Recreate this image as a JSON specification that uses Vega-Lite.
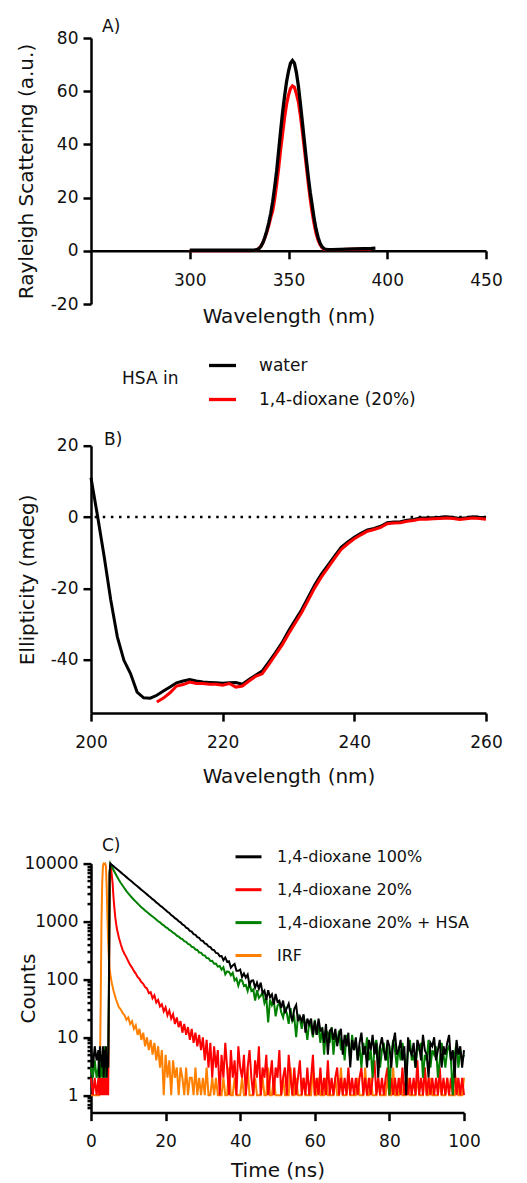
{
  "$schema": "https://vega.github.io/schema/vega-lite/v6.json",
  "autosize": {"type": "pad"},
  "padding": {"left": 15, "top": 18, "right": 0, "bottom": 4},
  "bounds": "flush",
  "spacing": 141.7,
  "datasets": {
    "A": [
      {"s":"1,4-dioxane (20%)","x":300,"y":0.1},{"s":"1,4-dioxane (20%)","x":310,"y":0.1},{"s":"1,4-dioxane (20%)","x":320,"y":0.1},{"s":"1,4-dioxane (20%)","x":330,"y":0.1},{"s":"1,4-dioxane (20%)","x":333,"y":0.2},{"s":"1,4-dioxane (20%)","x":334,"y":0.4},{"s":"1,4-dioxane (20%)","x":335,"y":0.9},{"s":"1,4-dioxane (20%)","x":336,"y":1.7},{"s":"1,4-dioxane (20%)","x":337,"y":3.0},{"s":"1,4-dioxane (20%)","x":338,"y":4.8},{"s":"1,4-dioxane (20%)","x":339,"y":7.0},{"s":"1,4-dioxane (20%)","x":340,"y":9.5},{"s":"1,4-dioxane (20%)","x":341,"y":12.5},{"s":"1,4-dioxane (20%)","x":342,"y":15},{"s":"1,4-dioxane (20%)","x":343,"y":19.5},{"s":"1,4-dioxane (20%)","x":344,"y":25},{"s":"1,4-dioxane (20%)","x":345,"y":31},{"s":"1,4-dioxane (20%)","x":346,"y":38},{"s":"1,4-dioxane (20%)","x":347,"y":44},{"s":"1,4-dioxane (20%)","x":348,"y":50},{"s":"1,4-dioxane (20%)","x":349,"y":55},{"s":"1,4-dioxane (20%)","x":350,"y":58.5},{"s":"1,4-dioxane (20%)","x":351,"y":61},{"s":"1,4-dioxane (20%)","x":352,"y":62},{"s":"1,4-dioxane (20%)","x":353,"y":61.5},{"s":"1,4-dioxane (20%)","x":354,"y":59},{"s":"1,4-dioxane (20%)","x":355,"y":56},{"s":"1,4-dioxane (20%)","x":356,"y":51},{"s":"1,4-dioxane (20%)","x":357,"y":45},{"s":"1,4-dioxane (20%)","x":358,"y":38.5},{"s":"1,4-dioxane (20%)","x":359,"y":32},{"s":"1,4-dioxane (20%)","x":360,"y":25.5},{"s":"1,4-dioxane (20%)","x":361,"y":19.5},{"s":"1,4-dioxane (20%)","x":362,"y":14.3},{"s":"1,4-dioxane (20%)","x":363,"y":10},{"s":"1,4-dioxane (20%)","x":364,"y":6.5},{"s":"1,4-dioxane (20%)","x":365,"y":4},{"s":"1,4-dioxane (20%)","x":366,"y":2.3},{"s":"1,4-dioxane (20%)","x":367,"y":1.2},{"s":"1,4-dioxane (20%)","x":368,"y":0.6},{"s":"1,4-dioxane (20%)","x":369,"y":0.4},{"s":"1,4-dioxane (20%)","x":370,"y":0.4},{"s":"1,4-dioxane (20%)","x":375,"y":0.4},{"s":"1,4-dioxane (20%)","x":380,"y":0.5},{"s":"1,4-dioxane (20%)","x":385,"y":0.6},{"s":"1,4-dioxane (20%)","x":392,"y":0.7},
      {"s":"water","x":300,"y":0.2},{"s":"water","x":310,"y":0.2},{"s":"water","x":320,"y":0.2},{"s":"water","x":330,"y":0.2},{"s":"water","x":332,"y":0.2},{"s":"water","x":333,"y":0.3},{"s":"water","x":334,"y":0.4},{"s":"water","x":335,"y":0.8},{"s":"water","x":336,"y":1.6},{"s":"water","x":337,"y":3.0},{"s":"water","x":338,"y":5.0},{"s":"water","x":339,"y":7.5},{"s":"water","x":340,"y":10.5},{"s":"water","x":341,"y":14},{"s":"water","x":342,"y":18.5},{"s":"water","x":343,"y":24},{"s":"water","x":344,"y":30},{"s":"water","x":345,"y":37.5},{"s":"water","x":346,"y":45},{"s":"water","x":347,"y":52},{"s":"water","x":348,"y":58},{"s":"water","x":349,"y":63.5},{"s":"water","x":350,"y":67.5},{"s":"water","x":351,"y":70.5},{"s":"water","x":352,"y":71.5},{"s":"water","x":353,"y":70.5},{"s":"water","x":354,"y":67},{"s":"water","x":355,"y":62},{"s":"water","x":356,"y":55.5},{"s":"water","x":357,"y":48.5},{"s":"water","x":358,"y":41.5},{"s":"water","x":359,"y":34.5},{"s":"water","x":360,"y":28},{"s":"water","x":361,"y":22},{"s":"water","x":362,"y":17},{"s":"water","x":363,"y":12},{"s":"water","x":364,"y":8},{"s":"water","x":365,"y":5},{"s":"water","x":366,"y":2.8},{"s":"water","x":367,"y":1.5},{"s":"water","x":368,"y":0.8},{"s":"water","x":369,"y":0.5},{"s":"water","x":370,"y":0.4},{"s":"water","x":372,"y":0.4},{"s":"water","x":376,"y":0.5},{"s":"water","x":380,"y":0.6},{"s":"water","x":384,"y":0.7},{"s":"water","x":388,"y":0.8},{"s":"water","x":392,"y":0.9},{"s":"water","x":394,"y":1.0}
    ],
    "B": [
      {"s":"water","x":200,"y":11},{"s":"water","x":201,"y":0.2},{"s":"water","x":202,"y":-11.1},{"s":"water","x":203,"y":-23.3},{"s":"water","x":204,"y":-33.6},{"s":"water","x":205,"y":-40.2},{"s":"water","x":206,"y":-43.9},{"s":"water","x":207,"y":-49.1},{"s":"water","x":208,"y":-50.7},{"s":"water","x":209,"y":-50.8},{"s":"water","x":210,"y":-50},{"s":"water","x":211,"y":-48.8},{"s":"water","x":212,"y":-47.7},{"s":"water","x":213,"y":-46.5},{"s":"water","x":214,"y":-46},{"s":"water","x":215,"y":-45.6},{"s":"water","x":216,"y":-46},{"s":"water","x":217,"y":-46.3},{"s":"water","x":218,"y":-46.4},{"s":"water","x":219,"y":-46.5},{"s":"water","x":220,"y":-46.6},{"s":"water","x":221,"y":-46.5},{"s":"water","x":222,"y":-46.4},{"s":"water","x":223,"y":-46.9},{"s":"water","x":224,"y":-45.6},{"s":"water","x":225,"y":-44.4},{"s":"water","x":226,"y":-43.2},{"s":"water","x":227,"y":-40.7},{"s":"water","x":228,"y":-38.1},{"s":"water","x":229,"y":-35.3},{"s":"water","x":230,"y":-32},{"s":"water","x":231,"y":-29},{"s":"water","x":232,"y":-26},{"s":"water","x":233,"y":-22.5},{"s":"water","x":234,"y":-19},{"s":"water","x":235,"y":-16},{"s":"water","x":236,"y":-13.5},{"s":"water","x":237,"y":-11},{"s":"water","x":238,"y":-8.5},{"s":"water","x":239,"y":-7},{"s":"water","x":240,"y":-5.7},{"s":"water","x":241,"y":-4.6},{"s":"water","x":242,"y":-3.6},{"s":"water","x":243,"y":-3.2},{"s":"water","x":244,"y":-2.6},{"s":"water","x":245,"y":-1.6},{"s":"water","x":246,"y":-1.4},{"s":"water","x":247,"y":-1.3},{"s":"water","x":248,"y":-0.9},{"s":"water","x":249,"y":-0.7},{"s":"water","x":250,"y":-0.3},{"s":"water","x":251,"y":-0.3},{"s":"water","x":252,"y":-0.2},{"s":"water","x":253,"y":-0.1},{"s":"water","x":254,"y":0.1},{"s":"water","x":255,"y":-0.1},{"s":"water","x":256,"y":-0.4},{"s":"water","x":257,"y":-0.2},{"s":"water","x":258,"y":0.1},{"s":"water","x":259,"y":-0.1},{"s":"water","x":260,"y":-0.2},
      {"s":"1,4-dioxane (20%)","x":210,"y":-51.9},{"s":"1,4-dioxane (20%)","x":211,"y":-50.8},{"s":"1,4-dioxane (20%)","x":212,"y":-49.3},{"s":"1,4-dioxane (20%)","x":213,"y":-47.4},{"s":"1,4-dioxane (20%)","x":214,"y":-47},{"s":"1,4-dioxane (20%)","x":215,"y":-46.3},{"s":"1,4-dioxane (20%)","x":216,"y":-46.7},{"s":"1,4-dioxane (20%)","x":217,"y":-46.7},{"s":"1,4-dioxane (20%)","x":218,"y":-46.9},{"s":"1,4-dioxane (20%)","x":219,"y":-46.9},{"s":"1,4-dioxane (20%)","x":220,"y":-47.2},{"s":"1,4-dioxane (20%)","x":221,"y":-46.7},{"s":"1,4-dioxane (20%)","x":222,"y":-47.7},{"s":"1,4-dioxane (20%)","x":223,"y":-47.4},{"s":"1,4-dioxane (20%)","x":224,"y":-46},{"s":"1,4-dioxane (20%)","x":225,"y":-44.7},{"s":"1,4-dioxane (20%)","x":226,"y":-44},{"s":"1,4-dioxane (20%)","x":227,"y":-41.4},{"s":"1,4-dioxane (20%)","x":228,"y":-38.7},{"s":"1,4-dioxane (20%)","x":229,"y":-36},{"s":"1,4-dioxane (20%)","x":230,"y":-32.8},{"s":"1,4-dioxane (20%)","x":231,"y":-29.8},{"s":"1,4-dioxane (20%)","x":232,"y":-26.8},{"s":"1,4-dioxane (20%)","x":233,"y":-23.3},{"s":"1,4-dioxane (20%)","x":234,"y":-19.8},{"s":"1,4-dioxane (20%)","x":235,"y":-16.8},{"s":"1,4-dioxane (20%)","x":236,"y":-14.2},{"s":"1,4-dioxane (20%)","x":237,"y":-11.6},{"s":"1,4-dioxane (20%)","x":238,"y":-9.1},{"s":"1,4-dioxane (20%)","x":239,"y":-7.5},{"s":"1,4-dioxane (20%)","x":240,"y":-6.1},{"s":"1,4-dioxane (20%)","x":241,"y":-5},{"s":"1,4-dioxane (20%)","x":242,"y":-4},{"s":"1,4-dioxane (20%)","x":243,"y":-3.5},{"s":"1,4-dioxane (20%)","x":244,"y":-2.9},{"s":"1,4-dioxane (20%)","x":245,"y":-1.9},{"s":"1,4-dioxane (20%)","x":246,"y":-1.7},{"s":"1,4-dioxane (20%)","x":247,"y":-1.6},{"s":"1,4-dioxane (20%)","x":248,"y":-1.2},{"s":"1,4-dioxane (20%)","x":249,"y":-1},{"s":"1,4-dioxane (20%)","x":250,"y":-0.6},{"s":"1,4-dioxane (20%)","x":251,"y":-0.6},{"s":"1,4-dioxane (20%)","x":252,"y":-0.5},{"s":"1,4-dioxane (20%)","x":253,"y":-0.4},{"s":"1,4-dioxane (20%)","x":254,"y":-0.3},{"s":"1,4-dioxane (20%)","x":255,"y":-0.4},{"s":"1,4-dioxane (20%)","x":256,"y":-0.7},{"s":"1,4-dioxane (20%)","x":257,"y":-0.5},{"s":"1,4-dioxane (20%)","x":258,"y":-0.3},{"s":"1,4-dioxane (20%)","x":259,"y":-0.4},{"s":"1,4-dioxane (20%)","x":260,"y":-0.6}
    ],
    "Cb": [
      {"t":0,"c":7},{"t":0.5,"c":3},{"t":1,"c":7},{"t":1.5,"c":4},{"t":2,"c":6},{"t":2.2,"c":2},{"t":2.4,"c":7},{"t":2.6,"c":4},{"t":2.8,"c":5},{"t":3,"c":3},{"t":3.2,"c":7},{"t":3.4,"c":2},{"t":3.6,"c":6},{"t":3.8,"c":3},{"t":4,"c":7},{"t":4.2,"c":2},{"t":4.4,"c":5},{"t":4.6,"c":3},{"t":4.8,"c":60},{"t":5,"c":7000},{"t":5.2,"c":10000},{"t":5.4,"c":9750},{"t":5.6,"c":9500},{"t":5.8,"c":9280},{"t":6,"c":9050},{"t":6.25,"c":8770},{"t":6.5,"c":8500},{"t":6.75,"c":8240},{"t":7,"c":7990},{"t":7.5,"c":7500},{"t":8,"c":7050},{"t":8.5,"c":6620},{"t":9,"c":6220},{"t":9.5,"c":5840},{"t":10,"c":5490},{"t":10.5,"c":5160},{"t":11,"c":4840},{"t":11.5,"c":4550},{"t":12,"c":4270},{"t":12.5,"c":4020},{"t":13,"c":3770},{"t":13.5,"c":3540},{"t":14,"c":3330},{"t":14.5,"c":3130},{"t":15,"c":2940},{"t":15.5,"c":2760},{"t":16,"c":2600},{"t":16.5,"c":2430},{"t":17,"c":2300},{"t":17.5,"c":2140},{"t":18,"c":2030},{"t":18.5,"c":1890},{"t":19,"c":1790},{"t":19.5,"c":1670},{"t":20,"c":1580},{"t":20.5,"c":1470},{"t":21,"c":1400},{"t":21.5,"c":1290},{"t":22,"c":1230},{"t":22.5,"c":1140},{"t":23,"c":1090},{"t":23.5,"c":1010},{"t":24,"c":965},{"t":24.5,"c":890},{"t":25,"c":855},{"t":25.5,"c":780},{"t":26,"c":755},{"t":26.5,"c":690},{"t":27,"c":668},{"t":27.5,"c":605},{"t":28,"c":590},{"t":28.5,"c":535},{"t":29,"c":520},{"t":29.5,"c":470},{"t":30,"c":462},{"t":30.5,"c":418},{"t":31,"c":408},{"t":31.5,"c":370},{"t":32,"c":360},{"t":32.5,"c":326},{"t":33,"c":320},{"t":33.5,"c":286},{"t":34,"c":282},{"t":34.5,"c":252},
      {"t":35,"c":254},{"t":35.5,"c":215},{"t":36,"c":239},{"t":36.5,"c":201},{"t":37,"c":206},{"t":37.5,"c":159},{"t":38,"c":174},{"t":38.5,"c":185},{"t":39,"c":141},{"t":39.5,"c":141},{"t":40,"c":148},{"t":40.5,"c":110},{"t":41,"c":126},{"t":41.5,"c":107},{"t":42,"c":121},{"t":42.5,"c":80},{"t":43,"c":95},{"t":43.5,"c":96},{"t":44,"c":72},{"t":44.5,"c":88},{"t":45,"c":69},{"t":45.5,"c":88},{"t":46,"c":58},{"t":46.5,"c":64},{"t":47,"c":44},{"t":47.5,"c":65},{"t":48,"c":49},{"t":48.5,"c":55},{"t":49,"c":37},{"t":49.5,"c":56},{"t":50,"c":41},{"t":50.5,"c":43},{"t":51,"c":32},{"t":51.5,"c":43},{"t":52,"c":26},{"t":52.5,"c":32},{"t":53,"c":38},{"t":53.5,"c":25},{"t":54,"c":19},{"t":54.5,"c":31},{"t":55,"c":36},{"t":55.5,"c":19},{"t":56,"c":23},{"t":56.5,"c":19},{"t":57,"c":25},{"t":57.5,"c":12},{"t":58,"c":21},{"t":58.5,"c":17},{"t":59,"c":21},{"t":59.5,"c":11},{"t":60,"c":19},{"t":60.5,"c":11},{"t":61,"c":21},{"t":61.5,"c":13},{"t":62,"c":14},{"t":62.5,"c":8},{"t":63,"c":17},{"t":63.5,"c":5},{"t":64,"c":13},{"t":64.5,"c":14},{"t":65,"c":9},{"t":65.5,"c":14},{"t":66,"c":7},{"t":66.5,"c":11},{"t":67,"c":14},{"t":67.5,"c":5},{"t":68,"c":11},{"t":68.5,"c":7},{"t":69,"c":12},{"t":69.5,"c":3},{"t":70,"c":9},
      {"t":70.5,"c":6},{"t":71,"c":10},{"t":71.5,"c":4},{"t":72,"c":8},{"t":72.5,"c":12},{"t":73,"c":5},{"t":73.5,"c":7},{"t":74,"c":3},{"t":74.5,"c":9},{"t":75,"c":6},{"t":75.5,"c":11},{"t":76,"c":5},{"t":76.5,"c":8},{"t":77,"c":2},{"t":77.5,"c":7},{"t":78,"c":10},{"t":78.5,"c":6},{"t":79,"c":4},{"t":79.5,"c":9},{"t":80,"c":7},{"t":80.5,"c":3},{"t":81,"c":8},{"t":81.5,"c":12},{"t":82,"c":5},{"t":82.5,"c":6},{"t":83,"c":9},{"t":83.5,"c":4},{"t":84,"c":7},{"t":84.5,"c":1},{"t":85,"c":10},{"t":85.5,"c":6},{"t":86,"c":5},{"t":86.5,"c":8},{"t":87,"c":3},{"t":87.5,"c":9},{"t":88,"c":7},{"t":88.5,"c":4},{"t":89,"c":11},{"t":89.5,"c":6},{"t":90,"c":5},{"t":90.5,"c":2},{"t":91,"c":8},{"t":91.5,"c":7},{"t":92,"c":10},{"t":92.5,"c":4},{"t":93,"c":6},{"t":93.5,"c":9},{"t":94,"c":3},{"t":94.5,"c":7},{"t":95,"c":5},{"t":95.5,"c":8},{"t":96,"c":11},{"t":96.5,"c":4},{"t":97,"c":6},{"t":97.5,"c":2},{"t":98,"c":9},{"t":98.5,"c":5},{"t":99,"c":7},{"t":99.5,"c":3},{"t":100,"c":6}
    ],
    "Cg": [
      {"t":0,"c":3},{"t":0.5,"c":2},{"t":1,"c":4},{"t":1.5,"c":2},{"t":2,"c":3},{"t":2.2,"c":5},{"t":2.4,"c":2},{"t":2.6,"c":3},{"t":2.8,"c":4},{"t":3,"c":2},{"t":3.2,"c":6},{"t":3.4,"c":3},{"t":3.6,"c":7},{"t":3.8,"c":2},{"t":4,"c":4},{"t":4.2,"c":3},{"t":4.4,"c":5},{"t":4.6,"c":3},{"t":4.8,"c":80},{"t":5,"c":7000},{"t":5.2,"c":10000},{"t":5.4,"c":9400},{"t":5.6,"c":8800},{"t":5.8,"c":8300},{"t":6,"c":7830},{"t":6.25,"c":7290},{"t":6.5,"c":6790},{"t":6.75,"c":6340},{"t":7,"c":5930},{"t":7.5,"c":5220},{"t":8,"c":4630},{"t":8.5,"c":4140},{"t":9,"c":3720},{"t":9.5,"c":3360},{"t":10,"c":3060},{"t":10.5,"c":2800},{"t":11,"c":2570},{"t":11.5,"c":2370},{"t":12,"c":2200},{"t":12.5,"c":2040},{"t":13,"c":1900},{"t":13.5,"c":1770},{"t":14,"c":1660},{"t":14.5,"c":1550},{"t":15,"c":1460},{"t":15.5,"c":1370},{"t":16,"c":1290},{"t":16.5,"c":1220},{"t":17,"c":1145},{"t":17.5,"c":1085},{"t":18,"c":1010},{"t":18.5,"c":965},{"t":19,"c":900},{"t":19.5,"c":860},{"t":20,"c":800},{"t":20.5,"c":770},{"t":21,"c":715},{"t":21.5,"c":685},{"t":22,"c":640},{"t":22.5,"c":615},{"t":23,"c":570},{"t":23.5,"c":550},{"t":24,"c":512},{"t":24.5,"c":495},{"t":25,"c":458},{"t":25.5,"c":446},{"t":26,"c":410},{"t":26.5,"c":398},{"t":27,"c":365},{"t":27.5,"c":358},{"t":28,"c":328},{"t":28.5,"c":322},{"t":29,"c":292},{"t":29.5,"c":289},{"t":30,"c":262},{"t":30.5,"c":259},{"t":31,"c":234},{"t":31.5,"c":232},{"t":32,"c":208},{"t":32.5,"c":209},{"t":33,"c":186},{"t":33.5,"c":188},{"t":34,"c":166},{"t":34.5,"c":170},
      {"t":35,"c":147},{"t":35.5,"c":162},{"t":36,"c":122},{"t":36.5,"c":137},{"t":37,"c":135},{"t":37.5,"c":117},{"t":38,"c":130},{"t":38.5,"c":96},{"t":39,"c":104},{"t":39.5,"c":78},{"t":40,"c":98},{"t":40.5,"c":96},{"t":41,"c":77},{"t":41.5,"c":80},{"t":42,"c":63},{"t":42.5,"c":86},{"t":43,"c":63},{"t":43.5,"c":67},{"t":44,"c":43},{"t":44.5,"c":65},{"t":45,"c":48},{"t":45.5,"c":52},{"t":46,"c":59},{"t":46.5,"c":39},{"t":47,"c":48},{"t":47.5,"c":18},{"t":48,"c":45},{"t":48.5,"c":36},{"t":49,"c":43},{"t":49.5,"c":23},{"t":50,"c":35},{"t":50.5,"c":39},{"t":51,"c":27},{"t":51.5,"c":22},{"t":52,"c":32},{"t":52.5,"c":26},{"t":53,"c":17},{"t":53.5,"c":32},{"t":54,"c":19},{"t":54.5,"c":22},{"t":55,"c":10},{"t":55.5,"c":24},{"t":56,"c":21},{"t":56.5,"c":14},{"t":57,"c":23},{"t":57.5,"c":16},{"t":58,"c":9},{"t":58.5,"c":18},{"t":59,"c":15},{"t":59.5,"c":10},{"t":60,"c":20},{"t":60.5,"c":11},{"t":61,"c":15},{"t":61.5,"c":8},{"t":62,"c":15},{"t":62.5,"c":5},{"t":63,"c":13},{"t":63.5,"c":12},{"t":64,"c":8},{"t":64.5,"c":15},{"t":65,"c":5},{"t":65.5,"c":11},{"t":66,"c":8},{"t":66.5,"c":13},{"t":67,"c":6},{"t":67.5,"c":9},{"t":68,"c":4},{"t":68.5,"c":11},{"t":69,"c":8},{"t":69.5,"c":4},{"t":70,"c":11},
      {"t":70.5,"c":6},{"t":71,"c":9},{"t":71.5,"c":4},{"t":72,"c":7},{"t":72.5,"c":3},{"t":73,"c":8},{"t":73.5,"c":5},{"t":74,"c":10},{"t":74.5,"c":4},{"t":75,"c":6},{"t":75.5,"c":2},{"t":76,"c":7},{"t":76.5,"c":9},{"t":77,"c":5},{"t":77.5,"c":3},{"t":78,"c":6},{"t":78.5,"c":8},{"t":79,"c":4},{"t":79.5,"c":7},{"t":80,"c":1},{"t":80.5,"c":5},{"t":81,"c":9},{"t":81.5,"c":6},{"t":82,"c":3},{"t":82.5,"c":7},{"t":83,"c":4},{"t":83.5,"c":8},{"t":84,"c":5},{"t":84.5,"c":2},{"t":85,"c":6},{"t":85.5,"c":9},{"t":86,"c":4},{"t":86.5,"c":5},{"t":87,"c":3},{"t":87.5,"c":7},{"t":88,"c":6},{"t":88.5,"c":8},{"t":89,"c":2},{"t":89.5,"c":5},{"t":90,"c":4},{"t":90.5,"c":9},{"t":91,"c":3},{"t":91.5,"c":6},{"t":92,"c":5},{"t":92.5,"c":7},{"t":93,"c":2},{"t":93.5,"c":4},{"t":94,"c":8},{"t":94.5,"c":5},{"t":95,"c":3},{"t":95.5,"c":6},{"t":96,"c":7},{"t":96.5,"c":4},{"t":97,"c":1},{"t":97.5,"c":5},{"t":98,"c":8},{"t":98.5,"c":3},{"t":99,"c":6},{"t":99.5,"c":4},{"t":100,"c":5}
    ],
    "Cr": [
      {"t":0,"c":2},{"t":0.5,"c":1},{"t":1,"c":2},{"t":1.5,"c":1},{"t":2,"c":2},{"t":2.2,"c":1},{"t":2.4,"c":2},{"t":2.6,"c":1},{"t":2.8,"c":2},{"t":3,"c":1},{"t":3.2,"c":2},{"t":3.4,"c":1},{"t":3.6,"c":2},{"t":3.8,"c":1},{"t":4,"c":2},{"t":4.2,"c":1},{"t":4.4,"c":2},{"t":4.6,"c":1},{"t":4.8,"c":30},{"t":5,"c":6500},{"t":5.2,"c":10000},{"t":5.4,"c":8000},{"t":5.6,"c":6000},{"t":5.8,"c":4500},{"t":6,"c":2800},{"t":6.25,"c":1750},{"t":6.5,"c":1200},{"t":6.75,"c":900},{"t":7,"c":720},{"t":7.5,"c":520},{"t":8,"c":400},{"t":8.5,"c":320},{"t":9,"c":275},{"t":9.5,"c":240},{"t":10,"c":205},{"t":10.5,"c":178},{"t":11,"c":160},{"t":11.5,"c":140},{"t":12,"c":126},{"t":12.5,"c":110},{"t":13,"c":102},{"t":13.5,"c":90},{"t":14,"c":84},{"t":14.5,"c":74},{"t":15,"c":70},{"t":15.5,"c":58},{"t":16,"c":60},{"t":16.5,"c":47},{"t":17,"c":53},{"t":17.5,"c":40},{"t":18,"c":44},{"t":18.5,"c":34},{"t":19,"c":37},{"t":19.5,"c":28},{"t":20,"c":33},{"t":20.5,"c":24},{"t":21,"c":29},{"t":21.5,"c":21},{"t":22,"c":25},{"t":22.5,"c":17},{"t":23,"c":22},{"t":23.5,"c":15},{"t":24,"c":19},{"t":24.5,"c":12},{"t":25,"c":17},{"t":25.5,"c":11},{"t":26,"c":15},{"t":26.5,"c":9},{"t":27,"c":14},{"t":27.5,"c":8},{"t":28,"c":12},{"t":28.5,"c":7},{"t":29,"c":11},{"t":29.5,"c":6},{"t":30,"c":10},{"t":30.5,"c":4},{"t":31,"c":9},{"t":31.5,"c":3},{"t":32,"c":8},{"t":32.5,"c":2},{"t":33,"c":7},{"t":33.5,"c":3},{"t":34,"c":6},{"t":34.5,"c":1},
      {"t":35,"c":5},{"t":35.5,"c":2},{"t":36,"c":8},{"t":36.5,"c":3},{"t":37,"c":1},{"t":37.5,"c":6},{"t":38,"c":2},{"t":38.5,"c":4},{"t":39,"c":1},{"t":39.5,"c":7},{"t":40,"c":3},{"t":40.5,"c":2},{"t":41,"c":5},{"t":41.5,"c":1},{"t":42,"c":3},{"t":42.5,"c":6},{"t":43,"c":2},{"t":43.5,"c":1},{"t":44,"c":4},{"t":44.5,"c":2},{"t":45,"c":7},{"t":45.5,"c":1},{"t":46,"c":3},{"t":46.5,"c":2},{"t":47,"c":5},{"t":47.5,"c":1},{"t":48,"c":2},{"t":48.5,"c":4},{"t":49,"c":1},{"t":49.5,"c":3},{"t":50,"c":2},{"t":50.5,"c":6},{"t":51,"c":1},{"t":51.5,"c":2},{"t":52,"c":3},{"t":52.5,"c":1},{"t":53,"c":5},{"t":53.5,"c":2},{"t":54,"c":1},{"t":54.5,"c":3},{"t":55,"c":1},{"t":55.5,"c":2},{"t":56,"c":4},{"t":56.5,"c":1},{"t":57,"c":2},{"t":57.5,"c":1},{"t":58,"c":3},{"t":58.5,"c":1},{"t":59,"c":2},{"t":59.5,"c":5},{"t":60,"c":1},
      {"t":60.5,"c":2},{"t":61,"c":1},{"t":61.5,"c":3},{"t":62,"c":1},{"t":62.5,"c":2},{"t":63,"c":1},{"t":63.5,"c":4},{"t":64,"c":1},{"t":64.5,"c":2},{"t":65,"c":1},{"t":65.5,"c":2},{"t":66,"c":3},{"t":66.5,"c":1},{"t":67,"c":2},{"t":67.5,"c":1},{"t":68,"c":2},{"t":68.5,"c":1},{"t":69,"c":3},{"t":69.5,"c":1},{"t":70,"c":2},{"t":70.5,"c":1},{"t":71,"c":2},{"t":71.5,"c":1},{"t":72,"c":2},{"t":72.5,"c":3},{"t":73,"c":1},{"t":73.5,"c":2},{"t":74,"c":1},{"t":74.5,"c":2},{"t":75,"c":1},{"t":75.5,"c":2},{"t":76,"c":4},{"t":76.5,"c":1},{"t":77,"c":2},{"t":77.5,"c":1},{"t":78,"c":2},{"t":78.5,"c":1},{"t":79,"c":2},{"t":79.5,"c":3},{"t":80,"c":1},{"t":80.5,"c":2},{"t":81,"c":1},{"t":81.5,"c":2},{"t":82,"c":1},{"t":82.5,"c":2},{"t":83,"c":1},{"t":83.5,"c":3},{"t":84,"c":1},{"t":84.5,"c":2},{"t":85,"c":1},{"t":85.5,"c":2},{"t":86,"c":1},{"t":86.5,"c":2},{"t":87,"c":1},{"t":87.5,"c":4},{"t":88,"c":1},{"t":88.5,"c":2},{"t":89,"c":1},{"t":89.5,"c":3},{"t":90,"c":1},{"t":90.5,"c":2},{"t":91,"c":1},{"t":91.5,"c":2},{"t":92,"c":1},{"t":92.5,"c":2},{"t":93,"c":1},{"t":93.5,"c":3},{"t":94,"c":1},{"t":94.5,"c":2},{"t":95,"c":1},{"t":95.5,"c":2},{"t":96,"c":1},{"t":96.5,"c":2},{"t":97,"c":1},{"t":97.5,"c":3},{"t":98,"c":1},{"t":98.5,"c":2},{"t":99,"c":1},{"t":99.5,"c":2},{"t":100,"c":1}
    ],
    "Co": [
      {"t":0,"c":1},{"t":0.5,"c":1},{"t":1,"c":1},{"t":1.5,"c":1},{"t":2,"c":1},{"t":2.2,"c":1},{"t":2.4,"c":3},{"t":2.6,"c":40},{"t":2.8,"c":900},{"t":3,"c":4500},{"t":3.2,"c":9000},{"t":3.4,"c":10000},{"t":3.6,"c":9800},{"t":3.8,"c":10000},{"t":4,"c":9000},{"t":4.2,"c":4000},{"t":4.4,"c":1200},{"t":4.6,"c":450},{"t":4.8,"c":220},{"t":5,"c":150},{"t":5.2,"c":120},{"t":5.4,"c":100},{"t":5.6,"c":85},{"t":5.8,"c":75},{"t":6,"c":65},{"t":6.25,"c":57},{"t":6.5,"c":50},{"t":6.75,"c":44},{"t":7,"c":40},{"t":7.5,"c":33},{"t":8,"c":30},{"t":8.5,"c":26},{"t":9,"c":24},{"t":9.5,"c":20},{"t":10,"c":22},{"t":10.5,"c":17},{"t":11,"c":19},{"t":11.5,"c":14},{"t":12,"c":16},{"t":12.5,"c":11},{"t":13,"c":14},{"t":13.5,"c":9},{"t":14,"c":12},{"t":14.5,"c":7},{"t":15,"c":10},{"t":15.5,"c":6},{"t":16,"c":9},{"t":16.5,"c":5},{"t":17,"c":8},{"t":17.5,"c":4},{"t":18,"c":7},{"t":18.5,"c":3},{"t":19,"c":6},{"t":19.5,"c":1},{"t":20,"c":5},{"t":20.5,"c":2},{"t":21,"c":4},{"t":21.5,"c":1},{"t":22,"c":4},{"t":22.5,"c":2},{"t":23,"c":3},{"t":23.5,"c":1},{"t":24,"c":3},{"t":24.5,"c":2},{"t":25,"c":1},{"t":25.5,"c":3},{"t":26,"c":1},{"t":26.5,"c":2},{"t":27,"c":2},{"t":27.5,"c":1},{"t":28,"c":3},{"t":28.5,"c":1},{"t":29,"c":2},{"t":29.5,"c":1},{"t":30,"c":2},{"t":30.5,"c":1},{"t":31,"c":3},{"t":31.5,"c":1},{"t":32,"c":1},{"t":32.5,"c":2},{"t":33,"c":1},{"t":33.5,"c":2},{"t":34,"c":1},{"t":34.5,"c":1},
      {"t":35,"c":1},{"t":35.5,"c":2},{"t":36,"c":1},{"t":36.5,"c":1},{"t":37,"c":3},{"t":37.5,"c":1},{"t":38,"c":1},{"t":38.5,"c":2},{"t":39,"c":1},{"t":39.5,"c":1},{"t":40,"c":1},{"t":40.5,"c":2},{"t":41,"c":1},{"t":41.5,"c":1},{"t":42,"c":3},{"t":42.5,"c":1},{"t":43,"c":1},{"t":43.5,"c":1},{"t":44,"c":2},{"t":44.5,"c":1},{"t":45,"c":1},{"t":45.5,"c":1},{"t":46,"c":2},{"t":46.5,"c":1},{"t":47,"c":1},{"t":47.5,"c":3},{"t":48,"c":1},{"t":48.5,"c":1},{"t":49,"c":2},{"t":49.5,"c":1},{"t":50,"c":1},{"t":50.5,"c":1},{"t":51,"c":1},{"t":51.5,"c":2},{"t":52,"c":1},{"t":52.5,"c":1},{"t":53,"c":1},{"t":53.5,"c":3},{"t":54,"c":1},{"t":54.5,"c":1},{"t":55,"c":2},{"t":55.5,"c":1},{"t":56,"c":1},{"t":56.5,"c":1},{"t":57,"c":2},{"t":57.5,"c":1},{"t":58,"c":1},{"t":58.5,"c":1},{"t":59,"c":1},{"t":59.5,"c":3},{"t":60,"c":1},{"t":60.5,"c":1},{"t":61,"c":2},{"t":61.5,"c":1},{"t":62,"c":1},{"t":62.5,"c":1},{"t":63,"c":2},{"t":63.5,"c":1},{"t":64,"c":1},{"t":64.5,"c":1},{"t":65,"c":1},{"t":65.5,"c":2},{"t":66,"c":1},{"t":66.5,"c":1},{"t":67,"c":3},{"t":67.5,"c":1},{"t":68,"c":1},{"t":68.5,"c":1},{"t":69,"c":2},{"t":69.5,"c":1},{"t":70,"c":1},
      {"t":70.5,"c":1},{"t":71,"c":1},{"t":71.5,"c":2},{"t":72,"c":1},{"t":72.5,"c":1},{"t":73,"c":1},{"t":73.5,"c":3},{"t":74,"c":1},{"t":74.5,"c":1},{"t":75,"c":2},{"t":75.5,"c":1},{"t":76,"c":1},{"t":76.5,"c":1},{"t":77,"c":2},{"t":77.5,"c":1},{"t":78,"c":1},{"t":78.5,"c":1},{"t":79,"c":1},{"t":79.5,"c":2},{"t":80,"c":1},{"t":80.5,"c":1},{"t":81,"c":3},{"t":81.5,"c":1},{"t":82,"c":1},{"t":82.5,"c":1},{"t":83,"c":2},{"t":83.5,"c":1},{"t":84,"c":1},{"t":84.5,"c":1},{"t":85,"c":2},{"t":85.5,"c":1},{"t":86,"c":1},{"t":86.5,"c":1},{"t":87,"c":1},{"t":87.5,"c":2},{"t":88,"c":1},{"t":88.5,"c":1},{"t":89,"c":1},{"t":89.5,"c":3},{"t":90,"c":1},{"t":90.5,"c":1},{"t":91,"c":2},{"t":91.5,"c":1},{"t":92,"c":1},{"t":92.5,"c":1},{"t":93,"c":1},{"t":93.5,"c":2},{"t":94,"c":1},{"t":94.5,"c":1},{"t":95,"c":1},{"t":95.5,"c":2},{"t":96,"c":1},{"t":96.5,"c":1},{"t":97,"c":1},{"t":97.5,"c":1},{"t":98,"c":2},{"t":98.5,"c":1},{"t":99,"c":1},{"t":99.5,"c":1},{"t":100,"c":2}
    ]
  },
  "vconcat": [
    {
      "title": {"text": "A)", "dx": 11, "offset": -7},
      "width": 395,
      "height": 266,
      "data": {"name": "A"},
      "encoding": {
        "x": {"field": "x", "type": "quantitative", "scale": {"domain": [250, 450], "nice": false, "zero": false},
              "axis": {"values": [300, 350, 400, 450], "offset": -53.2, "title": "Wavelength (nm)", "titleY": 71.3}},
        "y": {"field": "y", "type": "quantitative", "scale": {"domain": [-20, 80], "nice": false},
              "axis": {"values": [-20, 0, 20, 40, 60, 80], "labelExpr": "'' + datum.value", "title": "Rayleigh Scattering (a.u.)", "titleX": -59}},
        "color": {"field": "s", "type": "nominal",
                  "scale": {"domain": ["water", "1,4-dioxane (20%)"], "range": ["#000000", "#ff0000"]},
                  "legend": {"orient": "none", "legendX": 31, "legendY": 312, "title": "HSA in", "titleOrient": "left", "titleAnchor": "middle", "titleBaseline": "middle", "titlePadding": 28, "symbolType": "stroke", "symbolSize": 729, "symbolStrokeWidth": 3.3, "labelFontSize": 17, "labelOffset": 21, "rowPadding": 10, "padding": 0, "labelLimit": 0}}
      },
      "layer": [
        {"transform": [{"filter": "datum.s == '1,4-dioxane (20%)'"}], "mark": {"type": "line", "strokeWidth": 3.2}},
        {"transform": [{"filter": "datum.s == 'water'"}], "mark": {"type": "line", "strokeWidth": 3.3}}
      ]
    },
    {
      "bounds": "flush",
      "spacing": 149.9,
      "resolve": {"scale": {"color": "independent", "x": "independent", "y": "independent"}, "legend": {"color": "independent"}},
      "vconcat": [
        {
          "title": {"text": "B)", "dx": 13, "offset": -12},
          "width": 395,
          "height": 267.4,
          "data": {"name": "B"},
          "layer": [
            {
              "data": {"values": [{}]},
              "mark": {"type": "rule", "color": "#000", "strokeWidth": 2.5, "strokeDash": [2.5, 5.6]},
              "encoding": {"y": {"datum": 0, "type": "quantitative", "scale": {"domain": [-55, 20], "nice": false}, "title": "Ellipticity (mdeg)"}}
            },
            {
              "transform": [{"filter": "datum.s == 'water'"}],
              "mark": {"type": "line", "strokeWidth": 3},
              "encoding": {
                "x": {"field": "x", "type": "quantitative", "scale": {"domain": [200, 260], "nice": false, "zero": false},
                      "axis": {"values": [200, 220, 240, 260], "title": "Wavelength (nm)", "titleY": 69.6}},
                "y": {"field": "y", "type": "quantitative", "scale": {"domain": [-55, 20], "nice": false},
                      "axis": {"values": [-40, -20, 0, 20], "labelExpr": "'' + datum.value", "title": "Ellipticity (mdeg)", "titleX": -58}},
                "color": {"field": "s", "type": "nominal", "scale": {"domain": ["water", "1,4-dioxane (20%)"], "range": ["#000000", "#ff0000"]}, "legend": null}
              }
            },
            {
              "transform": [{"filter": "datum.s == '1,4-dioxane (20%)'"}],
              "mark": {"type": "line", "strokeWidth": 3},
              "encoding": {
                "x": {"field": "x", "type": "quantitative", "scale": {"domain": [200, 260], "nice": false, "zero": false},
                      "axis": {"values": [200, 220, 240, 260], "title": "Wavelength (nm)", "titleY": 69.6}},
                "y": {"field": "y", "type": "quantitative", "scale": {"domain": [-55, 20], "nice": false},
                      "axis": {"values": [-40, -20, 0, 20], "labelExpr": "'' + datum.value", "title": "Ellipticity (mdeg)", "titleX": -58}},
                "color": {"field": "s", "type": "nominal", "scale": {"domain": ["water", "1,4-dioxane (20%)"], "range": ["#000000", "#ff0000"]}, "legend": null}
              }
            }
          ]
        },
        {
          "title": {"text": "C)", "dx": 11, "offset": -13},
          "width": 373,
          "height": 249,
          "encoding": {
            "x": {"field": "t", "type": "quantitative", "scale": {"domain": [0, 100], "nice": false},
                  "axis": {"values": [0, 20, 40, 60, 80, 100], "title": "Time (ns)", "titleY": 63.5}},
            "y": {"field": "c", "type": "quantitative", "scale": {"type": "log", "domain": [0.5, 10000], "nice": false},
                  "axis": {"values": [0.6,0.7,0.8,0.9,1,2,3,4,5,6,7,8,9,10,20,30,40,50,60,70,80,90,100,200,300,400,500,600,700,800,900,1000,2000,3000,4000,5000,6000,7000,8000,9000,10000],
                           "labelExpr": "indexof([1,10,100,1000,10000], datum.value) >= 0 ? format(datum.value, 'd') : ''",
                           "tickSize": {"condition": {"test": "indexof([1,10,100,1000,10000], datum.value) >= 0", "value": 8}, "value": 4},
                           "title": "Counts", "titleX": -57}}
          },
          "layer": [
            {"data": {"name": "Co"}, "mark": {"type": "line", "strokeWidth": 2},
             "encoding": {"color": {"datum": "IRF", "type": "nominal", "scale": {"domain": ["1,4-dioxane 100%", "1,4-dioxane 20%", "1,4-dioxane 20% + HSA", "IRF"], "range": ["#000000", "#ff0000", "#008000", "#ff8000"]},
                                    "legend": {"orient": "none", "legendX": 143, "legendY": -21.3, "title": null, "symbolType": "stroke", "symbolSize": 676, "symbolStrokeWidth": 3, "labelFontSize": 16, "labelOffset": 14, "rowPadding": 9.9, "padding": 0, "labelLimit": 0}}}},
            {"data": {"name": "Cr"}, "mark": {"type": "line", "strokeWidth": 2},
             "encoding": {"color": {"datum": "1,4-dioxane 20%", "type": "nominal", "scale": {"domain": ["1,4-dioxane 100%", "1,4-dioxane 20%", "1,4-dioxane 20% + HSA", "IRF"], "range": ["#000000", "#ff0000", "#008000", "#ff8000"]},
                                    "legend": {"orient": "none", "legendX": 143, "legendY": -21.3, "title": null, "symbolType": "stroke", "symbolSize": 676, "symbolStrokeWidth": 3, "labelFontSize": 16, "labelOffset": 14, "rowPadding": 9.9, "padding": 0, "labelLimit": 0}}}},
            {"data": {"name": "Cg"}, "mark": {"type": "line", "strokeWidth": 2},
             "encoding": {"color": {"datum": "1,4-dioxane 20% + HSA", "type": "nominal", "scale": {"domain": ["1,4-dioxane 100%", "1,4-dioxane 20%", "1,4-dioxane 20% + HSA", "IRF"], "range": ["#000000", "#ff0000", "#008000", "#ff8000"]},
                                    "legend": {"orient": "none", "legendX": 143, "legendY": -21.3, "title": null, "symbolType": "stroke", "symbolSize": 676, "symbolStrokeWidth": 3, "labelFontSize": 16, "labelOffset": 14, "rowPadding": 9.9, "padding": 0, "labelLimit": 0}}}},
            {"data": {"name": "Cb"}, "mark": {"type": "line", "strokeWidth": 2},
             "encoding": {"color": {"datum": "1,4-dioxane 100%", "type": "nominal", "scale": {"domain": ["1,4-dioxane 100%", "1,4-dioxane 20%", "1,4-dioxane 20% + HSA", "IRF"], "range": ["#000000", "#ff0000", "#008000", "#ff8000"]},
                                    "legend": {"orient": "none", "legendX": 143, "legendY": -21.3, "title": null, "symbolType": "stroke", "symbolSize": 676, "symbolStrokeWidth": 3, "labelFontSize": 16, "labelOffset": 14, "rowPadding": 9.9, "padding": 0, "labelLimit": 0}}}}
          ]
        }
      ]
    }
  ],
  "resolve": {"scale": {"color": "independent", "x": "independent", "y": "independent"}, "legend": {"color": "independent"}},
  "config": {
    "view": {"stroke": null},
    "font": "DejaVu Sans",
    "axis": {
      "domainColor": "#000", "domainWidth": 2.5, "tickColor": "#000", "tickWidth": 2.5, "tickSize": 8,
      "labelFont": "DejaVu Sans", "labelFontSize": 17, "labelColor": "#111", "labelFlush": false, "labelOverlap": false,
      "titleFont": "DejaVu Sans", "titleFontSize": 20, "titleFontWeight": "normal", "titleColor": "#111", "grid": false
    },
    "axisX": {"labelPadding": 13.3, "titleBaseline": "alphabetic"},
    "axisY": {"labelPadding": 5, "titleBaseline": "alphabetic"},
    "legend": {"labelFont": "DejaVu Sans", "labelColor": "#111", "titleFont": "DejaVu Sans", "titleFontSize": 17, "titleFontWeight": "normal", "titleColor": "#111"},
    "title": {"font": "DejaVu Sans", "fontSize": 17, "fontWeight": "normal", "color": "#111", "anchor": "start", "frame": "group", "baseline": "alphabetic"}
  }
}
